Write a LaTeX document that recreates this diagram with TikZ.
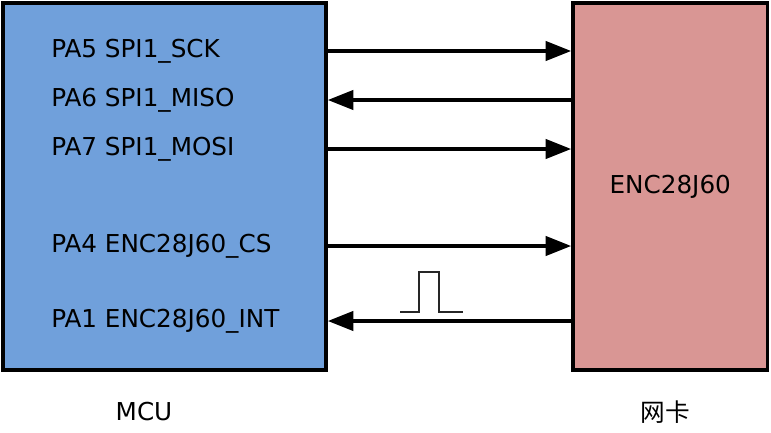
\documentclass[tikz,border=0pt]{standalone}
\usepackage{fontspec}
\setmainfont{DejaVu Sans}
\newfontfamily\cjk{Noto Sans CJK SC}
\usetikzlibrary{positioning,arrows.meta}
\definecolor{mcublue}{RGB}{112,160,219}
\definecolor{nicpink}{RGB}{217,150,148}
\tikzset{
	>={Triangle[length=19pt,width=14.5pt]},
	chip/.style={draw, rectangle, line width=2.9pt, minimum height=275.25pt},
	pinlabel/.style={anchor=west, inner sep=0pt, font=\fontsize{18.5}{22}\selectfont},
	bus/.style={line width=2.3pt},
	pulse/.style={line width=0.8pt, black!85},
}

\begin{document}
\begin{tikzpicture}[x=0.75pt, y=-0.75pt]
	\useasboundingbox (0,0) rectangle (771,432);
	% the two chips
	\node[chip, fill=mcublue, minimum width=242.25pt] (mcu) at (164.5,186.5) {};
	\node[chip, fill=nicpink, minimum width=145.9pt, font=\fontsize{18.5}{22}\selectfont] (nic) at (670.25,186.5) {ENC28J60};
	\node[font=\fontsize{18.5}{22}\selectfont] (mculabel) at (144,412) {MCU};
	\node[font=\cjk\fontsize{18.5}{22}\selectfont] (niclabel) at (665,412) {网卡};
	% pins
	\node[pinlabel] (sck) at (51,51) {PA5 SPI1\_SCK};
	\node[pinlabel] (miso) at (51,100) {PA6 SPI1\_MISO};
	\node[pinlabel] (mosi) at (51,149) {PA7 SPI1\_MOSI};
	\node[pinlabel] (cs) at (51,246) {PA4 ENC28J60\_CS};
	\node[pinlabel] (int) at (51,321) {PA1 ENC28J60\_INT};
	\draw[bus,->] (sck -| mcu.east) -- (sck -| nic.west);
	\draw[bus,<-] (miso -| mcu.east) -- (miso -| nic.west);
	\draw[bus,->] (mosi -| mcu.east) -- (mosi -| nic.west);
	\draw[bus,->] (cs -| mcu.east) -- (cs -| nic.west);
	\draw[bus,<-] (int -| mcu.east) -- (int -| nic.west);
	% interrupt pulse
	\draw[pulse] (400,312) -- (419,312) -- (419,272) -- (439,272) -- (439,312) -- (463,312);
\end{tikzpicture}
\end{document}
